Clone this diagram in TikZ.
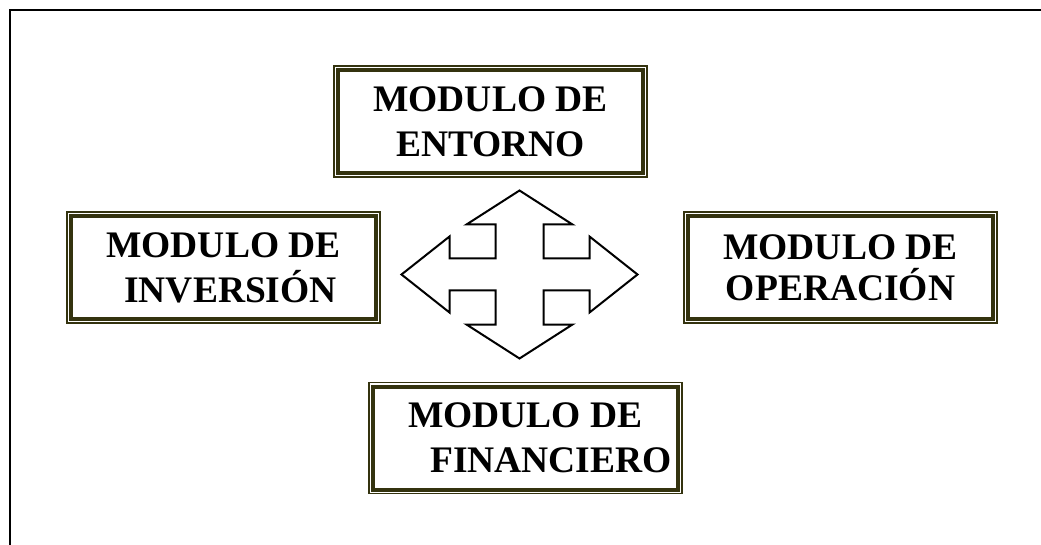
\documentclass[tikz,border=0pt]{standalone}
\usepackage{fontspec}
\setmainfont{Liberation Serif}
\usepackage{tikz}
\definecolor{boxolive}{HTML}{34330F}
\newcommand{\modulebox}[4]{
    \node[modbox, #4] (#1) at (#2) {#3};
    \draw[boxolive, line width=1.4pt] ([shift={(-2pt,2pt)}]#1.north west) rectangle ([shift={(2pt,-2pt)}]#1.south east);
}

\begin{document}
\begin{tikzpicture}[x=1pt,y=-1pt,
    modbox/.style={draw=boxolive, line width=4pt, fill=white, minimum width=305pt, minimum height=103pt, inner sep=0pt, align=center, font=\bfseries\fontsize{37.5pt}{45pt}\selectfont},
    crossarrow/.style={draw=black, line width=2pt, line join=miter, fill=white},
    frameline/.style={draw=black, line width=2pt}]
    \useasboundingbox (0,0) rectangle (1041,545);
    \coordinate (framebot) at (9.5,545);
    \coordinate (frametop) at (1041,10.5);
    \draw[frameline] (framebot) |- (frametop);

    \modulebox{entorno}{490.5,121.5}{MODULO DE\\ENTORNO}{}
    \modulebox{inversion}{223.5,267.5}{MODULO DE\\\hspace*{18pt}INVERSIÓN}{align=left}
    \modulebox{operacion}{840.5,267.5}{MODULO DE\\OPERACIÓN}{font=\bfseries\fontsize{37.5pt}{41pt}\selectfont}
    \modulebox{financiero}{525.5,438}{\hspace*{29pt}MODULO DE\\\hspace*{51pt}FINANCIERO}{align=left}

    % four-way arrow in the middle
    \coordinate (hub) at (519.5,274.5);
    \draw[crossarrow, shift={(hub)}] (0,-84) -- (53,-50) -- (24,-50) -- (24,-16) -- (70,-16) -- (70,-38) -- (118,0) -- (70,38) -- (70,16) -- (24,16) -- (24,50) -- (53,50) -- (0,84) -- (-53,50) -- (-24,50) -- (-24,16) -- (-70,16) -- (-70,38) -- (-118,0) -- (-70,-38) -- (-70,-16) -- (-24,-16) -- (-24,-50) -- (-53,-50) -- cycle;
\end{tikzpicture}
\end{document}
